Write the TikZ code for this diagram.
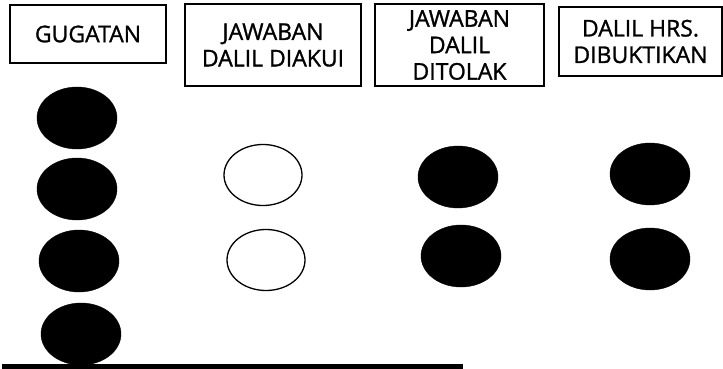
\documentclass[tikz,border=0pt]{standalone}
\usepackage{fontspec}
\setmainfont{Open Sans}
\newfontfamily\headfont{Open Sans}[FakeBold=1.2,UprightFeatures={FakeBold=1.2}]
\usetikzlibrary{shapes.geometric}
\begin{document}
\begin{tikzpicture}[x=1pt,y=-1pt,
  headbox/.style={draw=black,line width=1.1pt,inner sep=0pt,align=center,
    font=\headfont\fontsize{23}{26.5}\selectfont},
  fulldot/.style={ellipse,draw=black,fill=black,minimum width=80pt,minimum height=62pt,inner sep=0pt},
  opendot/.style={ellipse,draw=black,fill=white,line width=1.3pt,minimum width=78pt,minimum height=61pt,inner sep=0pt}]
\useasboundingbox (0,0) rectangle (723,369);
% header boxes
\node[headbox,minimum width=156pt,minimum height=58pt] (b1) at (88,34) {GUGATAN};
\node[headbox,minimum width=176pt,minimum height=82pt] (b2) at (273,45) {JAWABAN\\DALIL DIAKUI};
\node[headbox,minimum width=169pt,minimum height=82pt] (b3) at (459.5,45) {JAWABAN\\DALIL\\DITOLAK};
\node[headbox,minimum width=163pt,minimum height=69pt] (b4) at (640.5,41.5) {DALIL HRS.\\DIBUKTIKAN};
% column 1
\node[fulldot] (g1) at (77,118) {};
\node[fulldot] (g2) at (77,189) {};
\node[fulldot] (g3) at (79,261) {};
\node[fulldot] (g4) at (81,334) {};
% column 2
\node[opendot] (a1) at (263,175) {};
\node[opendot] (a2) at (266,260) {};
% column 3
\node[fulldot] (t1) at (458,177) {};
\node[fulldot] (t2) at (461,256) {};
% column 4
\node[fulldot] (h1) at (650,174) {};
\node[fulldot] (h2) at (650,259) {};
% base line
\coordinate (l1) at (2,366.5);
\coordinate (l2) at (463,366.5);
\draw[line width=5pt] (l1) -- (l2);
\end{tikzpicture}
\end{document}
